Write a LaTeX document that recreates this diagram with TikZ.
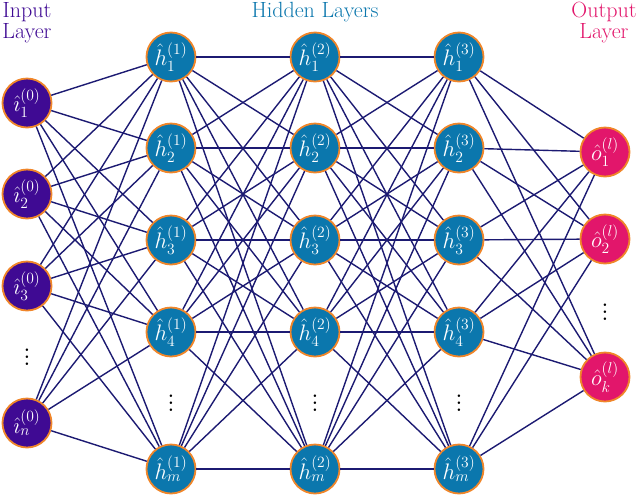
\documentclass[tikz,border=0pt]{standalone}
\usepackage{amsmath}
\definecolor{inpc}{HTML}{3F0A93}
\definecolor{hidc}{HTML}{0B77AD}
\definecolor{outc}{HTML}{E2166B}
\definecolor{bord}{HTML}{F0862A}
\definecolor{edgec}{HTML}{1C1A72}
\newcommand\nrn[1]{\scalebox{1.3}{$#1$}}
\newcommand\vdt{\scalebox{1.8}{$\vdots$}}
\begin{document}
\begin{tikzpicture}[x=1pt,y=-1pt,
  neuron/.style={circle,draw=bord,line width=1.8pt,minimum size=49pt,inner sep=0pt,text=white,font=\LARGE},
  inneuron/.style={neuron,fill=inpc},
  hidneuron/.style={neuron,fill=hidc},
  outneuron/.style={neuron,fill=outc},
  conn/.style={draw=edgec,line width=1.4pt},
  vdots/.style={font=\LARGE,inner sep=0pt},
  title/.style={font=\fontsize{22}{21}\selectfont,align=center,inner sep=0pt}]
\useasboundingbox (0,0) rectangle (640,496);
% input
\node[inneuron] (i1) at (27,103) {\nrn{\hat{\imath}_1^{(0)}}};
\node[inneuron] (i2) at (27,194) {\nrn{\hat{\imath}_2^{(0)}}};
\node[inneuron] (i3) at (27,286) {\nrn{\hat{\imath}_3^{(0)}}};
\node[inneuron] (i4) at (27,423) {\nrn{\hat{\imath}_n^{(0)}}};
\node[vdots] (id) at (27,352) {\vdt};
% hidden
\foreach \c/\x in {1/171,2/315,3/459}{
  \node[hidneuron] (h\c-1) at (\x,57) {\nrn{\hat{h}_1^{(\c)}}};
  \node[hidneuron] (h\c-2) at (\x,148) {\nrn{\hat{h}_2^{(\c)}}};
  \node[hidneuron] (h\c-3) at (\x,240) {\nrn{\hat{h}_3^{(\c)}}};
  \node[hidneuron] (h\c-4) at (\x,332) {\nrn{\hat{h}_4^{(\c)}}};
  \node[hidneuron] (h\c-5) at (\x,469) {\nrn{\hat{h}_m^{(\c)}}};
  \node[vdots] (hd\c) at (\x,398) {\vdt};
}
% output
\node[outneuron] (o1) at (605,152) {\nrn{\hat{o}_1^{(l)}}};
\node[outneuron] (o2) at (605,239) {\nrn{\hat{o}_2^{(l)}}};
\node[outneuron] (o3) at (605,377) {\nrn{\hat{o}_k^{(l)}}};
\node[vdots] (od) at (605,307) {\vdt};
% titles
\node[title,text=inpc] (ti) at (27,23) {Input\\Layer};
\node[title,text=hidc] (th) at (315,12) {Hidden Layers};
\node[title,text=outc] (to) at (604,23) {Output\\Layer};
% connections
\foreach \a in {1,...,4}{\foreach \b in {1,...,5}{\draw[conn] (i\a) -- (h1-\b);}}
\foreach \a in {1,...,5}{\foreach \b in {1,...,5}{\draw[conn] (h1-\a) -- (h2-\b); \draw[conn] (h2-\a) -- (h3-\b);}}
\foreach \a in {1,...,5}{\foreach \b in {1,2,3}{\draw[conn] (h3-\a) -- (o\b);}}
\end{tikzpicture}
\end{document}
